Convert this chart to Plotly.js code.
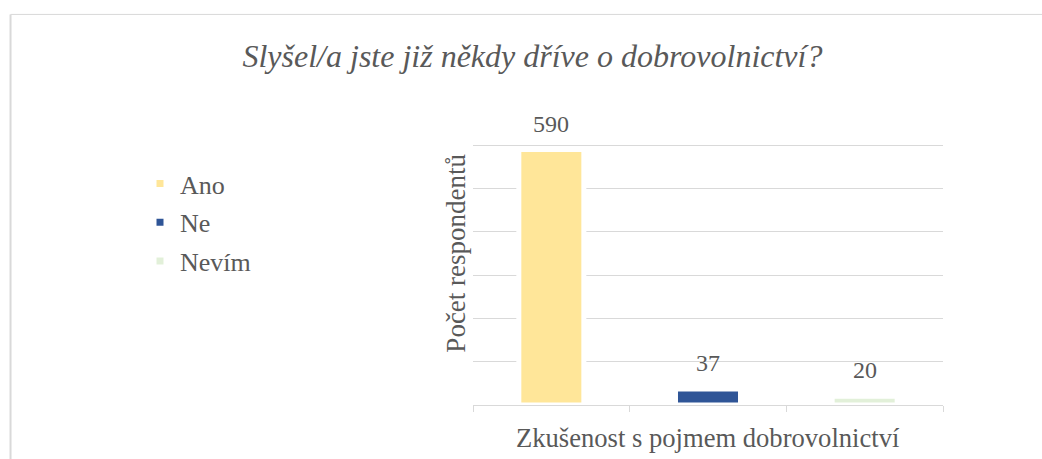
<!DOCTYPE html>
<html>
<head>
<meta charset="utf-8">
<script src="https://cdn.plot.ly/plotly-3.0.1.min.js"></script>
</head>
<body style="margin:0">
<div id="chart"></div>
<script>
// Data
const categories = ["Ano", "Ne", "Nevím"];
const values = [590, 37, 20];
const colors = ["#FFE699", "#2F5597", "#E2F0D9"];
const chartTitle = "Slyšel/a jste již někdy dříve o dobrovolnictví?";
const xTitle = "Zkušenost s pojmem dobrovolnictví";
const yTitle = "Počet respondentů";

const textColor = "#595959";
const fontFamily = "Liberation Serif";

const traces = categories.map((c, i) => ({
  type: "bar",
  name: c,
  x: [c],
  y: [values[i]],
  width: 0.415,
  marker: { color: colors[i], line: { color: "#ffffff", width: 5 } },
  legendgroup: "g" + i,
  hoverinfo: "x+y"
}));

const labelAnnotations = categories.map((c, i) => ({
  x: c, y: values[i], xref: "x", yref: "y",
  text: String(values[i]), showarrow: false,
  yanchor: "middle", yshift: 26,
  font: { family: fontFamily, size: 24, color: textColor }
}));

const frameX = -0.984, frameY = 1.289;

const layout = {
  width: 1042, height: 459,
  paper_bgcolor: "#ffffff", plot_bgcolor: "#ffffff",
  margin: { l: 473, r: 99, t: 102, b: 54 },
  barmode: "overlay",
  title: {
    text: chartTitle,
    xref: "container", yref: "container",
    x: 0.511, y: 1 - 56 / 459, xanchor: "center", yanchor: "middle",
    font: { family: fontFamily, size: 32, color: textColor, style: "italic" }
  },
  xaxis: {
    type: "category",
    categoryorder: "array", categoryarray: categories,
    showticklabels: false,
    ticks: "outside", ticklen: 6, tickcolor: "#d9d9d9", tickwidth: 1.3,
    tickson: "boundaries",
    showline: true, linecolor: "#d9d9d9", linewidth: 1.3,
    showgrid: false, zeroline: false,
    fixedrange: true
  },
  yaxis: {
    range: [0, 700], dtick: 100, tick0: 0,
    showticklabels: false, ticks: "",
    showgrid: true, gridcolor: "#d9d9d9", gridwidth: 1.3,
    zeroline: false, showline: false,
    fixedrange: true
  },
  showlegend: true,
  legend: {
    xref: "container", yref: "container",
    x: 140 / 1042, y: 1 - 160 / 459, xanchor: "left", yanchor: "top",
    traceorder: "grouped", tracegroupgap: 2,
    font: { family: fontFamily, size: 26, color: textColor },
    bgcolor: "rgba(0,0,0,0)"
  },
  shapes: [
    { type: "line", xref: "paper", yref: "paper", x0: frameX, x1: frameX, y0: frameY, y1: -0.5,
      line: { color: "#d9d9d9", width: 2 } },
    { type: "line", xref: "paper", yref: "paper", x0: frameX, x1: 1.5, y0: frameY, y1: frameY,
      line: { color: "#d9d9d9", width: 1 } }
  ],
  annotations: [
    ...labelAnnotations,
    {
      xref: "paper", yref: "paper", x: 0.5, y: -0.109,
      text: xTitle, showarrow: false, xanchor: "center", yanchor: "middle",
      font: { family: fontFamily, size: 26.6, color: textColor }
    },
    {
      xref: "paper", yref: "paper", x: -0.038, y: 0.5,
      text: yTitle, showarrow: false, textangle: -90,
      xanchor: "center", yanchor: "middle",
      font: { family: fontFamily, size: 27, color: textColor }
    }
  ]
};

Plotly.newPlot("chart", traces, layout, { displayModeBar: false });
</script>
</body>
</html>
